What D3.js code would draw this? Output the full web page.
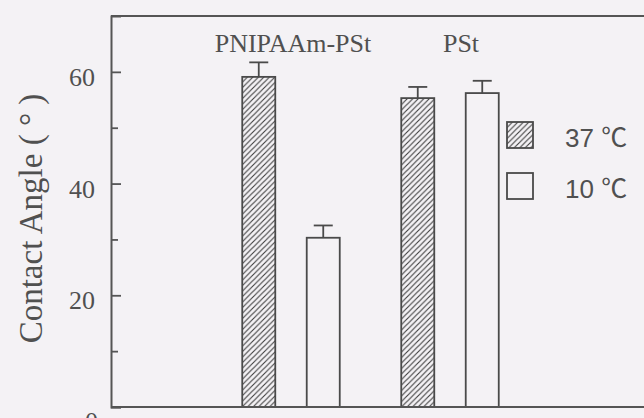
<!DOCTYPE html>
<html>
<head>
<meta charset="utf-8">
<script src="https://cdn.jsdelivr.net/npm/d3@7"></script>
<style>
  html, body { margin: 0; padding: 0; background: #f4f2f5; }
  svg { display: block; }
</style>
</head>
<body>
<svg id="chart" width="644" height="418"></svg>
<script>
// Contact angle of PNIPAAm-grafted and bare polystyrene surfaces at two temperatures
const groups = ["PNIPAAm-PSt", "PSt"];
const temps = ["37 ℃", "10 ℃"];
const angle37 = [59.1, 55.3];
const angle10 = [30.3, 56.2];
const err37 = [2.6, 2.0];
const err10 = [2.2, 2.2];
const yTicks = [0, 20, 40, 60];
const yMinorTicks = [10, 30, 50];

const rows = groups.flatMap((g, i) => [
  { group: g, temp: temps[0], value: angle37[i], err: err37[i] },
  { group: g, temp: temps[1], value: angle10[i], err: err10[i] }
]);

const plot = { left: 111, top: 16, bottom: 407, right: 644 };
const ink = "#4a4a4a";
const textInk = "#505050";

const svg = d3.select("#chart");

// diagonal hatching for the 37 ℃ bars
const defs = svg.append("defs");
const pat = defs.append("pattern")
  .attr("id", "hatch")
  .attr("patternUnits", "userSpaceOnUse")
  .attr("width", 5.5).attr("height", 5.5);
pat.append("rect").attr("width", 5.5).attr("height", 5.5).attr("fill", "#f4f2f5");
pat.append("path")
  .attr("d", "M-1,1 l2,-2 M0,5.5 l5.5,-5.5 M4.5,6.5 l2,-2")
  .attr("stroke", "#3c3c3c").attr("stroke-width", 1.1);

const fillFor = t => t === temps[0] ? "url(#hatch)" : "#f4f2f5";

const y = d3.scaleLinear().domain([0, 70]).range([plot.bottom, plot.top]);

const x = d3.scaleBand().domain(groups).range([211.5, 529.5]).padding(0);
const xInner = d3.scaleBand().domain(temps)
  .range([30.75, 128.25]).paddingInner(0.488).paddingOuter(0);

// bars
svg.append("g").selectAll("rect")
  .data(rows)
  .join("rect")
  .attr("x", d => x(d.group) + xInner(d.temp))
  .attr("y", d => y(d.value))
  .attr("width", xInner.bandwidth())
  .attr("height", d => y(0) - y(d.value))
  .attr("fill", d => fillFor(d.temp))
  .attr("stroke", ink)
  .attr("stroke-width", 1.8);

// upper error bars
const capHalf = 9.5;
const eb = svg.append("g").attr("stroke", ink).attr("stroke-width", 1.8);
rows.forEach(d => {
  const cx = x(d.group) + xInner(d.temp) + xInner.bandwidth() / 2;
  eb.append("line")
    .attr("x1", cx).attr("x2", cx)
    .attr("y1", y(d.value)).attr("y2", y(d.value + d.err));
  eb.append("line")
    .attr("x1", cx - capHalf).attr("x2", cx + capHalf)
    .attr("y1", y(d.value + d.err)).attr("y2", y(d.value + d.err));
});

// frame: baseline and top rule
const frame = svg.append("g").attr("stroke", "#555").attr("stroke-width", 2).attr("fill", "none");
frame.append("line").attr("x1", plot.left).attr("x2", plot.right).attr("y1", plot.top).attr("y2", plot.top);
frame.append("line").attr("x1", plot.left).attr("x2", plot.right).attr("y1", plot.bottom).attr("y2", plot.bottom);

// y axis with inward ticks
const yAxis = svg.append("g")
  .attr("transform", `translate(${plot.left},0)`)
  .call(d3.axisLeft(y).tickValues(yTicks).tickSize(-10).tickPadding(16).tickFormat(d3.format("d")));
yAxis.select(".domain").attr("stroke", "#555").attr("stroke-width", 2);
yAxis.selectAll(".tick line").attr("stroke", "#555").attr("stroke-width", 1.8);
yAxis.selectAll(".tick text")
  .attr("font-family", "'Liberation Serif', 'Times New Roman', serif")
  .attr("font-size", 26)
  .attr("fill", textInk)
  .attr("dy", "0.52em");
// the zero label hangs just below the baseline
yAxis.selectAll(".tick text").filter(d => d === 0)
  .attr("dy", "0.86em").attr("x", -13);

const yMinor = svg.append("g")
  .attr("transform", `translate(${plot.left},0)`)
  .call(d3.axisLeft(y).tickValues(yMinorTicks).tickSize(-7).tickFormat(""));
yMinor.select(".domain").remove();
yMinor.selectAll(".tick line").attr("stroke", "#555").attr("stroke-width", 1.8);

// y title
svg.append("text")
  .attr("transform", "translate(42,218.5) rotate(-90)")
  .attr("text-anchor", "middle")
  .attr("font-family", "'Liberation Serif', 'Times New Roman', serif")
  .attr("font-size", 33)
  .attr("fill", textInk)
  .text("Contact Angle ( ° )");

// group labels
const labelShift = [2, 11];
svg.append("g").selectAll("text")
  .data(groups)
  .join("text")
  .attr("x", (g, i) => x(g) + x.bandwidth() / 2 + labelShift[i])
  .attr("y", 52)
  .attr("text-anchor", "middle")
  .attr("font-family", "'Liberation Serif', 'Times New Roman', serif")
  .attr("font-size", 26)
  .attr("fill", textInk)
  .text(d => d);

// legend
const legend = svg.append("g").attr("transform", "translate(507,122)");
const lg = legend.selectAll("g")
  .data(temps)
  .join("g")
  .attr("transform", (d, i) => `translate(0,${i * 51})`);
lg.append("rect")
  .attr("width", 26).attr("height", 26)
  .attr("fill", d => fillFor(d))
  .attr("stroke", ink).attr("stroke-width", 1.8);
lg.append("text")
  .attr("x", 58).attr("y", 25)
  .attr("font-family", "'Liberation Sans', Arial, 'Noto Sans CJK JP', sans-serif")
  .attr("font-size", 26)
  .attr("fill", textInk)
  .text(d => d);
</script>
</body>
</html>
